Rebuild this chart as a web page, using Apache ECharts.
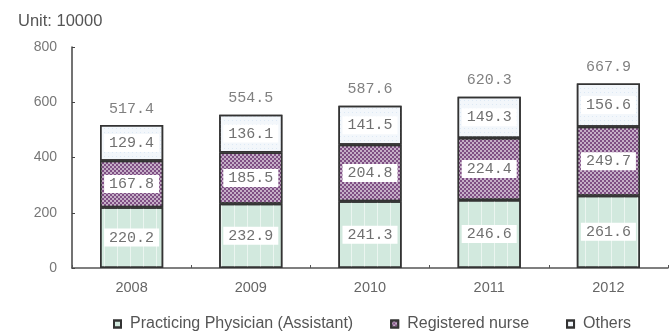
<!DOCTYPE html>
<html>
<head>
<meta charset="utf-8">
<script src="https://cdn.jsdelivr.net/npm/echarts@6/dist/echarts.min.js"></script>
<style>
  html, body { margin: 0; padding: 0; background: #fff; }
  #chart { width: 671px; height: 331px; }
</style>
</head>
<body>
<div id="chart"></div>
<script>
// Health workforce by type, unit: 10000 persons
var years = ['2008', '2009', '2010', '2011', '2012'];
var physicians = [220.2, 232.9, 241.3, 246.6, 261.6];
var nurses = [167.8, 185.5, 204.8, 224.4, 249.7];
var others = [129.4, 136.1, 141.5, 149.3, 156.6];
var totals = [517.4, 554.5, 587.6, 620.3, 667.9];
var yTicks = [0, 200, 400, 600, 800];

var chart = echarts.init(document.getElementById('chart'), null, { renderer: 'canvas' });

var innerLabel = {
  show: true,
  position: 'inside',
  color: '#707070',
  fontFamily: 'Liberation Mono',
  fontSize: 15,
  backgroundColor: '#fff',
  padding: [2, 5, 1, 5],
  formatter: function (p) { return p.value.toFixed(1); }
};

var option = {
  animation: false,
  title: {
    text: 'Unit: 10000',
    left: 13,
    top: 8,
    textStyle: { fontFamily: 'Liberation Sans', fontSize: 16.5, fontWeight: 'normal', color: '#555' }
  },
  grid: { left: 72, right: 3, top: 47, bottom: 63 },
  legend: {
    left: 108,
    top: 311,
    itemWidth: 7,
    itemHeight: 7,
    itemGap: 37,
    icon: 'rect',
    data: ['Practicing Physician (Assistant)', 'Registered nurse', 'Others'],
    textStyle: { fontFamily: 'Liberation Sans', fontSize: 16, color: '#555', padding: [0, 0, 0, 4] }
  },
  xAxis: {
    type: 'category',
    data: years,
    axisLine: { lineStyle: { color: '#555', width: 1.5 } },
    axisTick: { show: true, inside: true, length: 3, lineStyle: { color: '#555' } },
    axisLabel: { fontFamily: 'Liberation Sans', fontSize: 14.5, color: '#666', margin: 12 }
  },
  yAxis: {
    type: 'value',
    min: yTicks[0],
    max: yTicks[yTicks.length - 1],
    interval: 200,
    splitLine: { show: false },
    axisLine: { show: true, lineStyle: { color: '#444', width: 1.5 } },
    axisTick: { show: true, inside: true, length: 3, lineStyle: { color: '#444' } },
    axisLabel: { fontFamily: 'Liberation Sans', fontSize: 14, color: '#777', margin: 15 }
  },
  series: [
    {
      name: 'Practicing Physician (Assistant)',
      type: 'bar',
      stack: 'staff',
      barWidth: '53%',
      data: physicians,
      itemStyle: {
        color: '#d2e9de',
        borderColor: '#333',
        borderWidth: 1.5,
        decal: {
          symbol: 'rect',
          symbolSize: 1,
          color: 'rgba(255,255,255,0.55)',
          dashArrayX: [1, 12],
          dashArrayY: [4, 0],
          rotation: 0
        }
      },
      label: innerLabel
    },
    {
      name: 'Registered nurse',
      type: 'bar',
      stack: 'staff',
      data: nurses,
      itemStyle: {
        color: '#7f4f84',
        borderColor: '#333',
        borderWidth: 1.5,
        decal: {
          symbol: 'rect',
          symbolSize: 1,
          color: 'rgba(255,255,255,0.55)',
          dashArrayX: [[2, 2], [0, 2, 2, 0]],
          dashArrayY: [2, 0],
          rotation: 0
        }
      },
      label: innerLabel
    },
    {
      name: 'Others',
      type: 'bar',
      stack: 'staff',
      data: others,
      itemStyle: {
        color: '#f3f7fb',
        borderColor: '#333',
        borderWidth: 1.5,
        decal: {
          symbol: 'rect',
          symbolSize: 1,
          color: 'rgba(200,220,240,0.5)',
          dashArrayX: [1, 3],
          dashArrayY: [1, 3],
          rotation: 0
        }
      },
      label: innerLabel
    },
    {
      name: 'Total',
      type: 'scatter',
      data: totals,
      symbolSize: 0,
      silent: true,
      label: {
        show: true,
        position: 'top',
        distance: 9,
        color: '#606060',
        fontFamily: 'Liberation Mono',
        fontSize: 15,
        formatter: function (p) { return p.value.toFixed(1); }
      }
    }
  ]
};

chart.setOption(option);
</script>
</body>
</html>
